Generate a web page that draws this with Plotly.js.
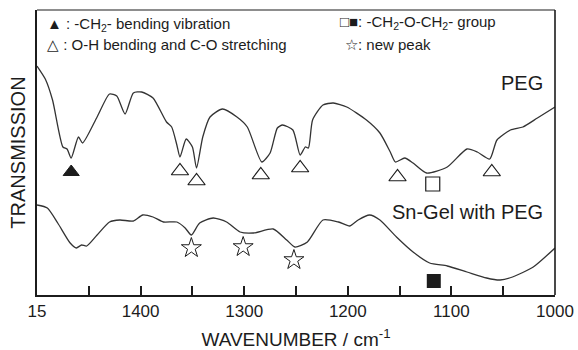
<!DOCTYPE html>
<html>
<head>
<meta charset="utf-8">
<script src="https://cdn.plot.ly/plotly-3.0.1.min.js"></script>
<style>html,body{margin:0;padding:0;background:#fff;}#chart{width:578px;height:350px;}</style>
</head>
<body>
<div id="chart"></div>
<script>
// PEG spectrum (wavenumber cm-1, transmission arb. units)
const pegWavenumber = [1500,1492,1485,1475,1471,1467,1460,1456,1442,1430,1423,1415,1407,1399,1388,1375,1370,1365,1362,1356,1350,1346,1340,1333,1321,1307,1297,1283,1275,1268,1263,1253,1246,1241,1238,1234,1224,1214,1201,1182,1169,1159,1154,1145,1137,1124,1104,1085,1075,1063,1056,1043,1031,1017,1000];
const pegTransmission = [229,216,195,148,146,137,158,152,178,201,199,181,202,203,197,173,168,150,138,156,148,127,158,178,186,178,168,133,142,167,170,165,140,148,147,175,190,192,188,175,162,143,133,137,132,122,128,146,143,136,155,165,168,177,188];

// Sn-Gel with PEG spectrum
const snWavenumber = [1500,1490,1480,1468,1462,1457,1452,1442,1430,1420,1407,1398,1388,1378,1365,1357,1351,1343,1330,1317,1304,1291,1272,1259,1251,1239,1224,1209,1198,1190,1179,1169,1153,1137,1121,1104,1085,1066,1053,1041,1021,1000];
const snTransmission = [90,87,72,52,47,50,49,60,73,75,74,80,78,73,73,67,60,72,77,73,63,62,66,55,48,53,75,73,69,75,80,75,58,43,32,29,23,17,15,18,28,47];

// Band markers
const ch2BendX = [1467];
const ch2BendY = [123];
const ohCoX = [1362,1346,1284,1246,1152,1061];
const ohCoY = [124,114,120,127,118,123];
const etherPegX = [1118];
const etherPegY = [111];
const etherGelX = [1117];
const etherGelY = [14];
const newPeakX = [1351,1301,1252];
const newPeakY = [47,48,35];

// Axis ticks
const tickValues = [1500,1450,1400,1350,1300,1250,1200,1150,1100,1050,1000];
const tickLabels = ['15','','1400','','1300','','1200','','1100','','1000'];

const ink = '#1c1c1c';
const lineStyle = {color:'#333', width:1.3, shape:'spline', smoothing:0.6};

const traces = [
  {x:pegWavenumber, y:pegTransmission, mode:'lines', line:lineStyle, hoverinfo:'skip'},
  {x:snWavenumber, y:snTransmission, mode:'lines', line:lineStyle, hoverinfo:'skip'},
  {x:ch2BendX, y:ch2BendY, mode:'markers', marker:{symbol:'triangle-up', size:14, color:ink, line:{color:ink,width:1}}},
  {x:ohCoX, y:ohCoY, mode:'markers', marker:{symbol:'triangle-up-open', size:15, color:ink, line:{color:ink,width:1.2}}},
  {x:etherPegX, y:etherPegY, mode:'markers', marker:{symbol:'square-open', size:14, color:ink, line:{color:ink,width:1.2}}},
  {x:etherGelX, y:etherGelY, mode:'markers', marker:{symbol:'square', size:14, color:ink}},
  {x:newPeakX, y:newPeakY, mode:'markers', marker:{symbol:'star-open', size:15, color:ink, line:{color:ink,width:1}}}
];

const font = 'Liberation Sans, Arial, Helvetica, sans-serif';
const legFont = {size:15, family:font, color:ink};
const layout = {
  width:578, height:350,
  margin:{l:37, r:23, t:10, b:55},
  paper_bgcolor:'#fff', plot_bgcolor:'#fff',
  showlegend:false,
  font:{family:font, color:ink},
  xaxis:{
    range:[1500,1000], showgrid:false, zeroline:false,
    showline:true, linecolor:ink, linewidth:2,
    tickmode:'array', tickvals:tickValues, ticktext:tickLabels,
    ticks:'inside', ticklen:9, tickwidth:2, tickcolor:ink,
    tickfont:{size:17, family:font, color:ink},
    title:{text:'WAVENUMBER / cm<sup>-1</sup>', font:{size:19, family:font, color:ink}, standoff:14}
  },
  yaxis:{
    range:[0,285], showgrid:false, zeroline:false,
    showline:true, linecolor:ink, linewidth:2,
    showticklabels:false, ticks:'',
    title:{text:'TRANSMISSION', font:{size:20, family:font, color:ink}, standoff:4}
  },
  shapes:[
    {type:'line', xref:'paper', yref:'paper', x0:0, x1:1, y0:1, y1:1, line:{color:ink, width:1.2}},
    {type:'line', xref:'paper', yref:'paper', x0:1, x1:1, y0:0, y1:1, line:{color:ink, width:1.6}}
  ],
  annotations:[
    {xref:'paper', yref:'paper', x:0.015, y:0.95, xanchor:'left', yanchor:'middle', showarrow:false, align:'left',
     text:'▲ : -CH<sub>2</sub>- bending vibration', font:legFont},
    {xref:'paper', yref:'paper', x:0.015, y:0.88, xanchor:'left', yanchor:'middle', showarrow:false, align:'left',
     text:'△ : O-H bending and C-O stretching', font:legFont},
    {xref:'paper', yref:'paper', x:0.89, y:0.955, xanchor:'right', yanchor:'middle', showarrow:false, align:'right',
     text:'□■: -CH<sub>2</sub>-O-CH<sub>2</sub>- group', font:legFont},
    {xref:'paper', yref:'paper', x:0.59, y:0.88, xanchor:'left', yanchor:'middle', showarrow:false, align:'left',
     text:'☆: new peak', font:legFont},
    {xref:'paper', yref:'paper', x:0.98, y:0.744, xanchor:'right', yanchor:'middle', showarrow:false,
     text:'PEG', font:{size:20, family:font, color:ink}},
    {xref:'paper', yref:'paper', x:0.98, y:0.29, xanchor:'right', yanchor:'middle', showarrow:false,
     text:'Sn-Gel with PEG', font:{size:20, family:font, color:ink}}
  ]
};

Plotly.newPlot('chart', traces, layout, {staticPlot:true, displayModeBar:false});
</script>
</body>
</html>
